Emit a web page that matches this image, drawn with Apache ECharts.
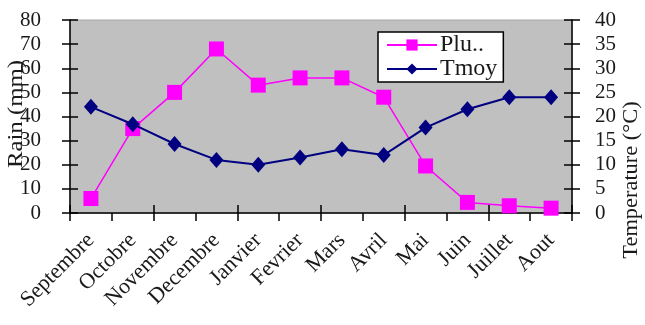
<!DOCTYPE html>
<html>
<head>
<meta charset="utf-8">
<script src="https://cdn.jsdelivr.net/npm/echarts@6/dist/echarts.min.js"></script>
<style>
  html, body { margin: 0; padding: 0; background: #ffffff; }
  #chart { width: 645px; height: 325px; }
</style>
</head>
<body>
<div id="chart"></div>
<script>
// Monthly climate: rainfall (left scale) and mean temperature (right scale)
const months = ['Septembre', 'Octobre', 'Novembre', 'Decembre', 'Janvier', 'Fevrier',
                'Mars', 'Avril', 'Mai', 'Juin', 'Juillet', 'Aout'];
const pluie = [6, 35, 50, 68, 53, 56, 56, 48, 19.5, 4.4, 3, 2];
const tmoy = [22, 18.4, 14.3, 11, 10, 11.5, 13.2, 12, 17.7, 21.5, 24, 24];

const serif = '"Liberation Serif", "DejaVu Serif", serif';
const ink = '#1a1a1a';

const chart = echarts.init(document.getElementById('chart'), null, { renderer: 'canvas' });

// ticks that cross the axis: an outside-tick axis plus an inside-tick twin
const xBase = {
  type: 'category',
  data: months,
  boundaryGap: true,
  position: 'bottom',
  offset: 0
};

chart.setOption({
  animation: false,
  backgroundColor: '#ffffff',
  grid: {
    left: 70, right: 73, top: 20, bottom: 112,
    show: true,
    backgroundColor: '#C0C0C0',
    borderColor: '#a8a8a8',
    borderWidth: 1
  },
  legend: {
    left: 378, top: 32,
    orient: 'vertical',
    itemWidth: 50, itemHeight: 14, itemGap: 0,
    padding: [1, 6, 1, 8],
    backgroundColor: '#ffffff',
    borderColor: '#000000',
    borderWidth: 1.5,
    textStyle: { fontFamily: serif, fontSize: 24, color: ink, padding: [0, 0, 0, -2] },
    formatter: name => (name === 'Pluie' ? 'Plu..' : name),
    data: ['Pluie', 'Tmoy']
  },
  xAxis: [
    Object.assign({}, xBase, {
      axisLine: { show: true, lineStyle: { color: '#000', width: 1.5 } },
      axisTick: { show: true, inside: false, length: 8, lineStyle: { color: '#000', width: 1.5 } },
      axisLabel: {
        rotate: 45, margin: 24, interval: 0,
        fontFamily: serif, fontSize: 22, color: ink
      },
      splitLine: { show: false }
    }),
    Object.assign({}, xBase, {
      axisLine: { show: false },
      axisTick: { show: true, inside: true, length: 8, lineStyle: { color: '#000', width: 1.5 } },
      axisLabel: { show: false },
      splitLine: { show: false }
    })
  ],
  yAxis: [
    {
      type: 'value', position: 'left', offset: 0,
      min: 0, max: 80, interval: 10,
      axisLine: { show: true, lineStyle: { color: '#000', width: 1.5 } },
      axisTick: { show: true, inside: false, length: 8, lineStyle: { color: '#000', width: 1.5 } },
      axisLabel: { margin: 29, fontFamily: serif, fontSize: 21, color: ink },
      splitLine: { show: false }
    },
    {
      type: 'value', position: 'right', offset: 0,
      min: 0, max: 40, interval: 5,
      axisLine: { show: true, lineStyle: { color: '#000', width: 1.5 } },
      axisTick: { show: true, inside: false, length: 8, lineStyle: { color: '#000', width: 1.5 } },
      axisLabel: { margin: 23, fontFamily: serif, fontSize: 21, color: ink },
      splitLine: { show: false }
    },
    {
      type: 'value', position: 'left', offset: 0,
      min: 0, max: 80, interval: 10,
      axisLine: { show: false },
      axisTick: { show: true, inside: true, length: 8, lineStyle: { color: '#000', width: 1.5 } },
      axisLabel: { show: false },
      splitLine: { show: false }
    },
    {
      type: 'value', position: 'right', offset: 0,
      min: 0, max: 40, interval: 5,
      axisLine: { show: false },
      axisTick: { show: true, inside: true, length: 8, lineStyle: { color: '#000', width: 1.5 } },
      axisLabel: { show: false },
      splitLine: { show: false }
    }
  ],
  graphic: [
    {
      type: 'text', x: 17, y: 114, rotation: Math.PI / 2, scaleX: 1.24,
      style: {
        text: 'Rain (mm)', fontFamily: serif, fontSize: 20, fill: ink,
        textAlign: 'center', textVerticalAlign: 'middle'
      }
    },
    {
      type: 'text', x: 632, y: 180, rotation: Math.PI / 2, scaleX: 1.12,
      style: {
        text: 'Temperature (°C)', fontFamily: serif, fontSize: 20, fill: ink,
        textAlign: 'center', textVerticalAlign: 'middle'
      }
    }
  ],
  series: [
    {
      name: 'Pluie', type: 'line', data: pluie,
      xAxisIndex: 0, yAxisIndex: 0,
      symbol: 'rect', symbolSize: 15,
      itemStyle: { color: '#FF00FF' },
      lineStyle: { color: '#FF00FF', width: 1.5 },
      z: 2
    },
    {
      name: 'Tmoy', type: 'line', data: tmoy,
      xAxisIndex: 0, yAxisIndex: 1,
      symbol: 'diamond', symbolSize: [14, 16],
      itemStyle: { color: '#000080' },
      lineStyle: { color: '#000080', width: 2 },
      z: 3
    }
  ]
});
</script>
</body>
</html>
